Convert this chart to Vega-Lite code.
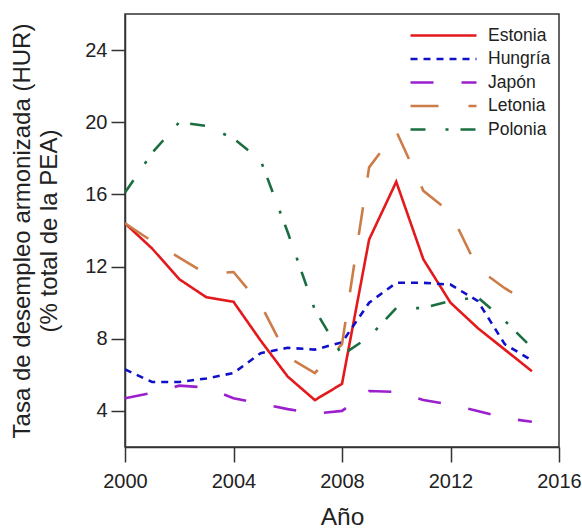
{
  "$schema": "https://vega.github.io/schema/vega-lite/v6.json",
  "autosize": "none",
  "width": 434,
  "height": 433,
  "padding": {"left": 125, "top": 14, "right": 23, "bottom": 83},
  "background": "white",
  "config": {
    "font": "Liberation Sans",
    "view": {"stroke": "#333333", "strokeWidth": 1.5},
    "axis": {"grid": false, "domainColor": "#333333", "tickColor": "#333333", "domainWidth": 1.5, "tickWidth": 1.5, "labelColor": "#222222", "titleColor": "#222222", "labelFont": "Liberation Sans", "titleFont": "Liberation Sans", "titleFontWeight": "normal"}
  },
  "data": {"values": [
    {"pais": "Estonia", "anio": 2000, "v": 14.4},
    {"pais": "Estonia", "anio": 2001, "v": 13.0},
    {"pais": "Estonia", "anio": 2002, "v": 11.3},
    {"pais": "Estonia", "anio": 2003, "v": 10.3},
    {"pais": "Estonia", "anio": 2004, "v": 10.05},
    {"pais": "Estonia", "anio": 2005, "v": 7.9},
    {"pais": "Estonia", "anio": 2006, "v": 5.9},
    {"pais": "Estonia", "anio": 2007, "v": 4.6},
    {"pais": "Estonia", "anio": 2008, "v": 5.5},
    {"pais": "Estonia", "anio": 2009, "v": 13.5},
    {"pais": "Estonia", "anio": 2010, "v": 16.7},
    {"pais": "Estonia", "anio": 2011, "v": 12.4},
    {"pais": "Estonia", "anio": 2012, "v": 10.0},
    {"pais": "Estonia", "anio": 2013, "v": 8.6},
    {"pais": "Estonia", "anio": 2014, "v": 7.4},
    {"pais": "Estonia", "anio": 2015, "v": 6.2},
    {"pais": "Hungría", "anio": 2000, "v": 6.3},
    {"pais": "Hungría", "anio": 2001, "v": 5.6},
    {"pais": "Hungría", "anio": 2002, "v": 5.6},
    {"pais": "Hungría", "anio": 2003, "v": 5.8},
    {"pais": "Hungría", "anio": 2004, "v": 6.1},
    {"pais": "Hungría", "anio": 2005, "v": 7.2},
    {"pais": "Hungría", "anio": 2006, "v": 7.5},
    {"pais": "Hungría", "anio": 2007, "v": 7.4},
    {"pais": "Hungría", "anio": 2008, "v": 7.8},
    {"pais": "Hungría", "anio": 2009, "v": 10.0},
    {"pais": "Hungría", "anio": 2010, "v": 11.1},
    {"pais": "Hungría", "anio": 2011, "v": 11.1},
    {"pais": "Hungría", "anio": 2012, "v": 11.0},
    {"pais": "Hungría", "anio": 2013, "v": 10.1},
    {"pais": "Hungría", "anio": 2014, "v": 7.7},
    {"pais": "Hungría", "anio": 2015, "v": 6.8},
    {"pais": "Japón", "anio": 2000, "v": 4.7},
    {"pais": "Japón", "anio": 2001, "v": 5.0},
    {"pais": "Japón", "anio": 2002, "v": 5.4},
    {"pais": "Japón", "anio": 2003, "v": 5.3},
    {"pais": "Japón", "anio": 2004, "v": 4.7},
    {"pais": "Japón", "anio": 2005, "v": 4.4},
    {"pais": "Japón", "anio": 2006, "v": 4.1},
    {"pais": "Japón", "anio": 2007, "v": 3.85},
    {"pais": "Japón", "anio": 2008, "v": 4.0},
    {"pais": "Japón", "anio": 2009, "v": 5.1},
    {"pais": "Japón", "anio": 2010, "v": 5.05},
    {"pais": "Japón", "anio": 2011, "v": 4.6},
    {"pais": "Japón", "anio": 2012, "v": 4.35},
    {"pais": "Japón", "anio": 2013, "v": 4.0},
    {"pais": "Japón", "anio": 2014, "v": 3.6},
    {"pais": "Japón", "anio": 2015, "v": 3.4},
    {"pais": "Letonia", "anio": 2000, "v": 14.4},
    {"pais": "Letonia", "anio": 2001, "v": 13.4},
    {"pais": "Letonia", "anio": 2002, "v": 12.5},
    {"pais": "Letonia", "anio": 2003, "v": 11.6},
    {"pais": "Letonia", "anio": 2004, "v": 11.7},
    {"pais": "Letonia", "anio": 2005, "v": 9.9},
    {"pais": "Letonia", "anio": 2006, "v": 7.0},
    {"pais": "Letonia", "anio": 2007, "v": 6.1},
    {"pais": "Letonia", "anio": 2008, "v": 7.7},
    {"pais": "Letonia", "anio": 2009, "v": 17.5},
    {"pais": "Letonia", "anio": 2010, "v": 19.5},
    {"pais": "Letonia", "anio": 2011, "v": 16.2},
    {"pais": "Letonia", "anio": 2012, "v": 15.0},
    {"pais": "Letonia", "anio": 2013, "v": 11.9},
    {"pais": "Letonia", "anio": 2014, "v": 10.8},
    {"pais": "Letonia", "anio": 2015, "v": 9.9},
    {"pais": "Polonia", "anio": 2000, "v": 16.1},
    {"pais": "Polonia", "anio": 2001, "v": 18.3},
    {"pais": "Polonia", "anio": 2002, "v": 20.0},
    {"pais": "Polonia", "anio": 2003, "v": 19.8},
    {"pais": "Polonia", "anio": 2004, "v": 19.1},
    {"pais": "Polonia", "anio": 2005, "v": 17.9},
    {"pais": "Polonia", "anio": 2006, "v": 13.9},
    {"pais": "Polonia", "anio": 2007, "v": 9.6},
    {"pais": "Polonia", "anio": 2008, "v": 7.1},
    {"pais": "Polonia", "anio": 2009, "v": 8.1},
    {"pais": "Polonia", "anio": 2010, "v": 9.7},
    {"pais": "Polonia", "anio": 2011, "v": 9.7},
    {"pais": "Polonia", "anio": 2012, "v": 10.1},
    {"pais": "Polonia", "anio": 2013, "v": 10.3},
    {"pais": "Polonia", "anio": 2014, "v": 9.0},
    {"pais": "Polonia", "anio": 2015, "v": 7.5}
  ]},
  "mark": {"type": "line", "strokeWidth": 2.6, "clip": true},
  "encoding": {
    "x": {"field": "anio", "type": "quantitative",
      "scale": {"domain": [2000, 2016], "nice": false, "zero": false},
      "axis": {"values": [2000, 2004, 2008, 2012, 2016], "format": "d", "title": "Año", "labelFontSize": 20, "titleFontSize": 24.5, "tickSize": 15, "labelPadding": 9, "titlePadding": 14, "labelFlush": false}},
    "y": {"field": "v", "type": "quantitative",
      "scale": {"domain": [2, 26], "nice": false, "zero": false},
      "axis": {"values": [4, 8, 12, 16, 20, 24], "title": ["Tasa de desempleo armonizada (HUR)", "(% total de la PEA)"], "labelFontSize": 20, "titleFontSize": 24, "tickSize": 14, "labelPadding": 4, "titlePadding": 23, "titleLineHeight": 27}},
    "color": {"field": "pais", "type": "nominal",
      "scale": {"domain": ["Estonia", "Hungría", "Japón", "Letonia", "Polonia"], "range": ["#e3191c", "#1010c8", "#9b1fcc", "#cc7c48", "#1a6e40"]},
      "legend": {"title": null, "orient": "none", "legendX": 306, "legendY": 9, "symbolType": "M-3,0H3", "symbolSize": 484, "symbolStrokeWidth": 2.6, "labelFontSize": 17.5, "labelColor": "#222222", "rowPadding": 2.5, "labelOffset": 32}},
    "strokeDash": {"field": "pais", "type": "nominal",
      "scale": {"domain": ["Estonia", "Hungría", "Japón", "Letonia", "Polonia"], "range": [[1, 0], [7, 6], [23, 28], [28, 30], [15, 20, 3, 12]]},
      "legend": {"title": null, "orient": "none", "legendX": 306, "legendY": 9, "symbolType": "M-3,0H3", "symbolSize": 484, "symbolStrokeWidth": 2.6, "labelFontSize": 17.5, "rowPadding": 2.5, "labelOffset": 32}}
  }
}
